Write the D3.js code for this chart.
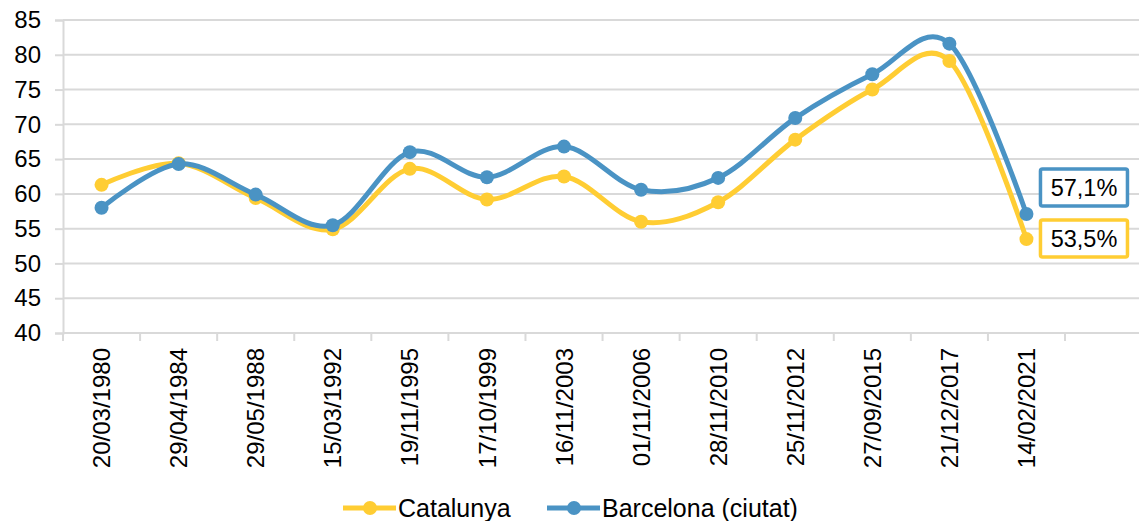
<!DOCTYPE html>
<html lang="ca">
<head>
<meta charset="UTF-8">
<script src="https://cdnjs.cloudflare.com/ajax/libs/d3/7.8.5/d3.min.js"></script>
<title>Participació electoral</title>
<style>
    body { margin: 0; background: #fff; }
    svg { display: block; font-family: "Liberation Sans", Arial, sans-serif; }
    .axis text { fill: #000; }
</style>
</head>
<body>
<script>
    // dates de les eleccions (l'última banda queda buida, com a l'original)
    const dates = ['20/03/1980', '29/04/1984', '29/05/1988', '15/03/1992', '19/11/1995', '17/10/1999',
        '16/11/2003', '01/11/2006', '28/11/2010', '25/11/2012', '27/09/2015', '21/12/2017', '14/02/2021'];
    const catalunya = [61.3, 64.4, 59.4, 54.9, 63.6, 59.2, 62.5, 56.0, 58.8, 67.8, 75.0, 79.1, 53.5];
    const barcelona = [58.0, 64.3, 59.9, 55.5, 66.0, 62.4, 66.8, 60.6, 62.3, 70.9, 77.2, 81.6, 57.1];
    const yTicks = [40, 45, 50, 55, 60, 65, 70, 75, 80, 85];
    const lastLabels = ['53,5%', '57,1%'];

    const width = 1139;
    const height = 521;
    const marginLeft = 63;
    const marginTop = 20;
    const plotBottom = 333;

    const colorCat = '#FFCD33';
    const colorBcn = '#4A93C4';
    const colorGrid = '#D9D9D9';

    const series = [
        { name: 'Catalunya', values: catalunya, color: colorCat, label: lastLabels[0] },
        { name: 'Barcelona (ciutat)', values: barcelona, color: colorBcn, label: lastLabels[1] }
    ];

    const svg = d3.select('body').append('svg')
        .attr('width', width)
        .attr('height', height);

    const domain = dates.concat(['']);
    const bandStep = (width - marginLeft) / 13.96;

    const x = d3.scaleBand()
        .domain(domain)
        .range([marginLeft, marginLeft + bandStep * domain.length])
        .padding(0);

    const y = d3.scaleLinear()
        .domain([40, 85])
        .range([plotBottom, marginTop]);

    // línies de la graella
    svg.append('g')
        .selectAll('line')
        .data(yTicks.filter(function(d) { return d > 40; }))
        .enter()
        .append('line')
        .attr('x1', marginLeft)
        .attr('x2', width)
        .attr('y1', function(d) { return y(d); })
        .attr('y2', function(d) { return y(d); })
        .attr('stroke', colorGrid)
        .attr('stroke-width', 2);

    // eix Y
    const yAxis = svg.append('g')
        .attr('class', 'axis')
        .attr('transform', 'translate(' + marginLeft + ',0)')
        .call(d3.axisLeft(y).tickValues(yTicks).tickSize(8).tickPadding(14));
    yAxis.selectAll('text').style('font-size', '24px');
    yAxis.selectAll('line, .domain').attr('stroke', colorGrid).attr('stroke-width', 2);

    // eix X
    const xAxis = svg.append('g')
        .attr('class', 'axis')
        .attr('transform', 'translate(0,' + plotBottom + ')')
        .call(d3.axisBottom(x).tickSize(0).tickSizeOuter(0));
    xAxis.select('.domain').attr('stroke', colorGrid).attr('stroke-width', 2)
        .attr('d', 'M' + marginLeft + ',0H' + width);
    xAxis.selectAll('.tick line').remove();
    xAxis.selectAll('.tick text')
        .attr('transform', 'rotate(-90)')
        .attr('text-anchor', 'end')
        .attr('x', -15)
        .attr('y', 0)
        .attr('dy', '0.36em')
        .style('font-size', '24px');

    // marques entre bandes
    svg.append('g')
        .selectAll('line')
        .data(domain)
        .enter()
        .append('line')
        .attr('x1', function(d) { return x(d); })
        .attr('x2', function(d) { return x(d); })
        .attr('y1', plotBottom)
        .attr('y2', plotBottom + 8)
        .attr('stroke', colorGrid)
        .attr('stroke-width', 2);

    const cx = function(d, i) { return x(dates[i]) + x.bandwidth() / 2; };

    const line = d3.line()
        .x(cx)
        .y(function(d) { return y(d); })
        .curve(d3.curveCardinal.tension(0));

    series.forEach(function(s) {
        const g = svg.append('g');
        g.append('path')
            .datum(s.values)
            .attr('d', line)
            .attr('fill', 'none')
            .attr('stroke', s.color)
            .attr('stroke-width', 5)
            .attr('stroke-linejoin', 'round');
        g.selectAll('circle')
            .data(s.values)
            .enter()
            .append('circle')
            .attr('cx', cx)
            .attr('cy', function(d) { return y(d); })
            .attr('r', 7)
            .attr('fill', s.color);
    });

    // etiquetes de l'últim valor
    const last = dates.length - 1;
    const boxX = x(dates[last]) + x.bandwidth() / 2 + 14;
    const boxes = [
        { s: series[1], cy: 187.5 },
        { s: series[0], cy: 238.5 }
    ];
    boxes.forEach(function(b) {
        svg.append('rect')
            .attr('x', boxX)
            .attr('y', b.cy - 18.5)
            .attr('width', 87)
            .attr('height', 37)
            .attr('rx', 2)
            .attr('fill', '#fff')
            .attr('stroke', b.s.color)
            .attr('stroke-width', 3.5);
        svg.append('text')
            .attr('x', boxX + 43.5)
            .attr('y', b.cy)
            .attr('dy', '0.36em')
            .attr('text-anchor', 'middle')
            .style('font-size', '23.5px')
            .text(b.s.label);
    });

    // llegenda
    const legend = svg.append('g').attr('transform', 'translate(0,508)');
    const legendX = [343, 547];
    series.forEach(function(s, i) {
        const lg = legend.append('g').attr('transform', 'translate(' + legendX[i] + ',0)');
        lg.append('line')
            .attr('x1', 0).attr('x2', 53)
            .attr('stroke', s.color)
            .attr('stroke-width', 5);
        lg.append('circle')
            .attr('cx', 27)
            .attr('r', 7)
            .attr('fill', s.color);
        lg.append('text')
            .attr('x', 55)
            .attr('dy', '0.36em')
            .style('font-size', '25px')
            .text(s.name);
    });
</script>
</body>
</html>
